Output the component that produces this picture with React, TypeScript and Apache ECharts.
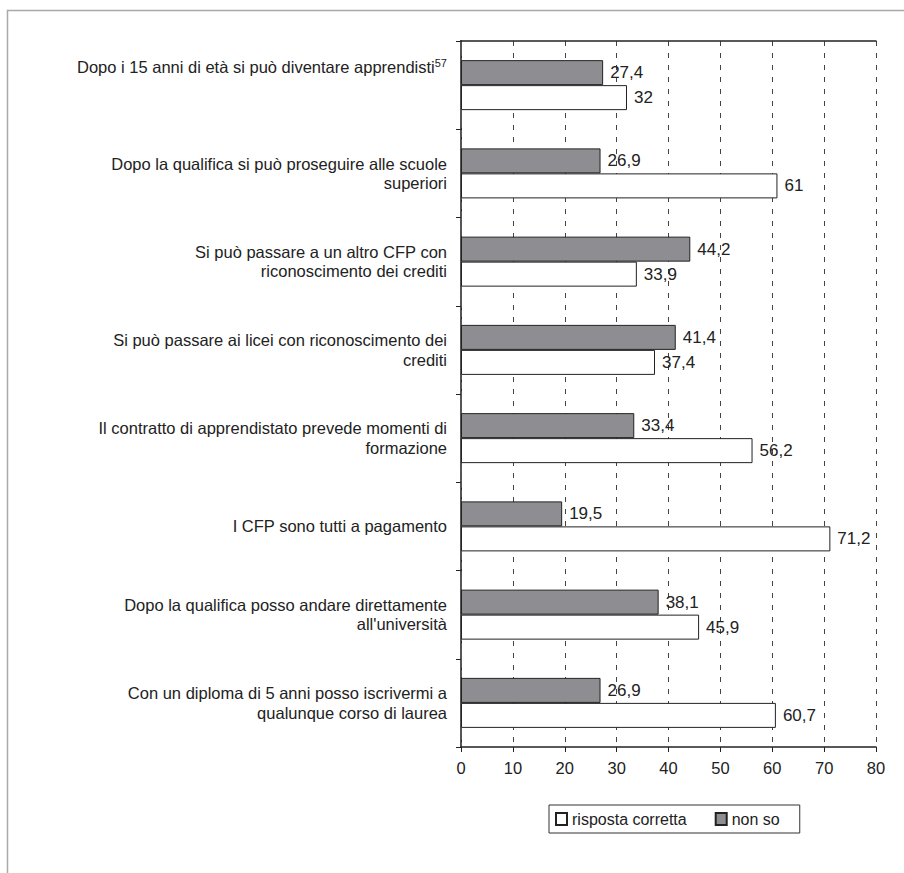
import React, { useEffect, useRef } from "react";
import * as echarts from "echarts";

const categories: string[] = [
  "Dopo i 15 anni di età si può diventare apprendisti",
  "Dopo la qualifica si può proseguire alle scuole\nsuperiori",
  "Si può passare a un altro CFP con\nriconoscimento dei crediti",
  "Si può passare ai licei con riconoscimento dei\ncrediti",
  "Il contratto di apprendistato prevede momenti di\nformazione",
  "I CFP sono tutti a pagamento",
  "Dopo la qualifica posso andare direttamente\nall'università",
  "Con un diploma di 5 anni posso iscrivermi a\nqualunque corso di laurea",
];
const footnotes: string[] = ["57", "", "", "", "", "", "", ""];

const nonSo: number[] = [27.4, 26.9, 44.2, 41.4, 33.4, 19.5, 38.1, 26.9];
const rispostaCorretta: number[] = [32, 61, 33.9, 37.4, 56.2, 71.2, 45.9, 60.7];

const seriesNames = ["risposta corretta", "non so"];
const xMin = 0;
const xMax = 80;
const xInterval = 10;

const FONT = "Liberation Sans";

const fmt = (v: number) => String(v).replace(".", ",");

export default function App() {
  const ref = useRef<HTMLDivElement>(null);
  useEffect(() => {
    if (!ref.current) return;
    const chart = echarts.init(ref.current, null, { renderer: "svg" });
    const option: any = {
      animation: false,
      backgroundColor: "#ffffff",
      textStyle: { fontFamily: FONT, color: "#222" },
      graphic: [
        {
          type: "polyline",
          shape: { points: [[7.5, 873], [7.5, 10.5], [904, 10.5]] },
          style: { stroke: "#a9a9a9", lineWidth: 1.5, fill: "none" },
          silent: true,
        },
      ],
      grid: { left: 461, top: 41, right: 28, bottom: 126, containLabel: false },
      legend: {
        left: 549,
        top: 805,
        data: ["risposta corretta", "non so"],
        orient: "horizontal",
        borderColor: "#333",
        borderWidth: 1,
        padding: [6, 20, 6, 6],
        itemWidth: 11,
        itemHeight: 12,
        itemGap: 28,
        icon: "rect",
        textStyle: { fontFamily: FONT, fontSize: 16, color: "#222" },
      },
      xAxis: [
        {
          type: "value",
          position: "bottom",
          min: xMin,
          max: xMax,
          interval: xInterval,
          axisLine: { show: true, lineStyle: { color: "#222", width: 1.5 } },
          axisTick: { show: true, length: 5, lineStyle: { color: "#222" } },
          axisLabel: { fontFamily: FONT, fontSize: 16.5, color: "#222", margin: 12 },
          splitLine: {
            show: true,
            lineStyle: { color: "#444", type: [5, 7], width: 1 },
          },
        },
        {
          type: "value",
          position: "top",
          min: xMin,
          max: xMax,
          interval: xInterval,
          axisLine: { show: true, lineStyle: { color: "#222", width: 1.5 } },
          axisTick: { show: false },
          axisLabel: { show: false },
          splitLine: { show: false },
        },
      ],
      yAxis: [
        {
          type: "category",
          inverse: true,
          data: categories,
          axisLine: { show: true, lineStyle: { color: "#222", width: 1.5 } },
          axisTick: { show: true, length: 5, lineStyle: { color: "#222" } },
          axisLabel: {
            fontFamily: FONT,
            fontSize: 16.5,
            color: "#222",
            margin: 14,
            lineHeight: 19.5,
            align: "right",
            formatter: (value: string, idx: number) => {
              const lines = value.split("\n");
              const parts = lines.map((l) => `{t|${l}}`);
              if (footnotes[idx]) {
                parts[0] = parts[0] + `{sup|${footnotes[idx]}}`;
                return parts.join("\n") + "\n{gap| }";
              }
              return parts.join("\n");
            },
            rich: {
              t: { fontFamily: FONT, fontSize: 16.5, color: "#222", lineHeight: 19.5 },
              sup: {
                fontFamily: FONT,
                fontSize: 11,
                color: "#222",
                verticalAlign: "top",
                lineHeight: 13,
              },
              gap: { fontSize: 1, lineHeight: 36 },
            },
          },
          splitLine: { show: false },
        },
        {
          type: "category",
          inverse: true,
          position: "right",
          data: categories,
          axisLine: {
            show: true,
            lineStyle: { color: "#555", width: 2, type: [5, 4] },
          },
          axisTick: { show: false },
          axisLabel: { show: false },
          splitLine: { show: false },
        },
      ],
      series: [
        {
          name: seriesNames[1],
          type: "bar",
          data: nonSo,
          barWidth: 25,
          barGap: "0%",
          itemStyle: { color: "#8e8e92", borderColor: "#222", borderWidth: 1 },
          label: {
            show: true,
            position: "right",
            distance: 7,
            fontFamily: FONT,
            fontSize: 17,
            color: "#222",
            formatter: (p: any) => fmt(p.value),
          },
        },
        {
          name: seriesNames[0],
          type: "bar",
          data: rispostaCorretta,
          barWidth: 25,
          barGap: "0%",
          itemStyle: { color: "#ffffff", borderColor: "#222", borderWidth: 1 },
          label: {
            show: true,
            position: "right",
            distance: 7,
            fontFamily: FONT,
            fontSize: 17,
            color: "#222",
            formatter: (p: any) => fmt(p.value),
          },
        },
      ],
    };
    chart.setOption(option);
    return () => chart.dispose();
  }, []);
  return (
    <div
      ref={ref}
      style={{ position: "fixed", left: 0, top: 0, width: 904, height: 873 }}
    />
  );
}
